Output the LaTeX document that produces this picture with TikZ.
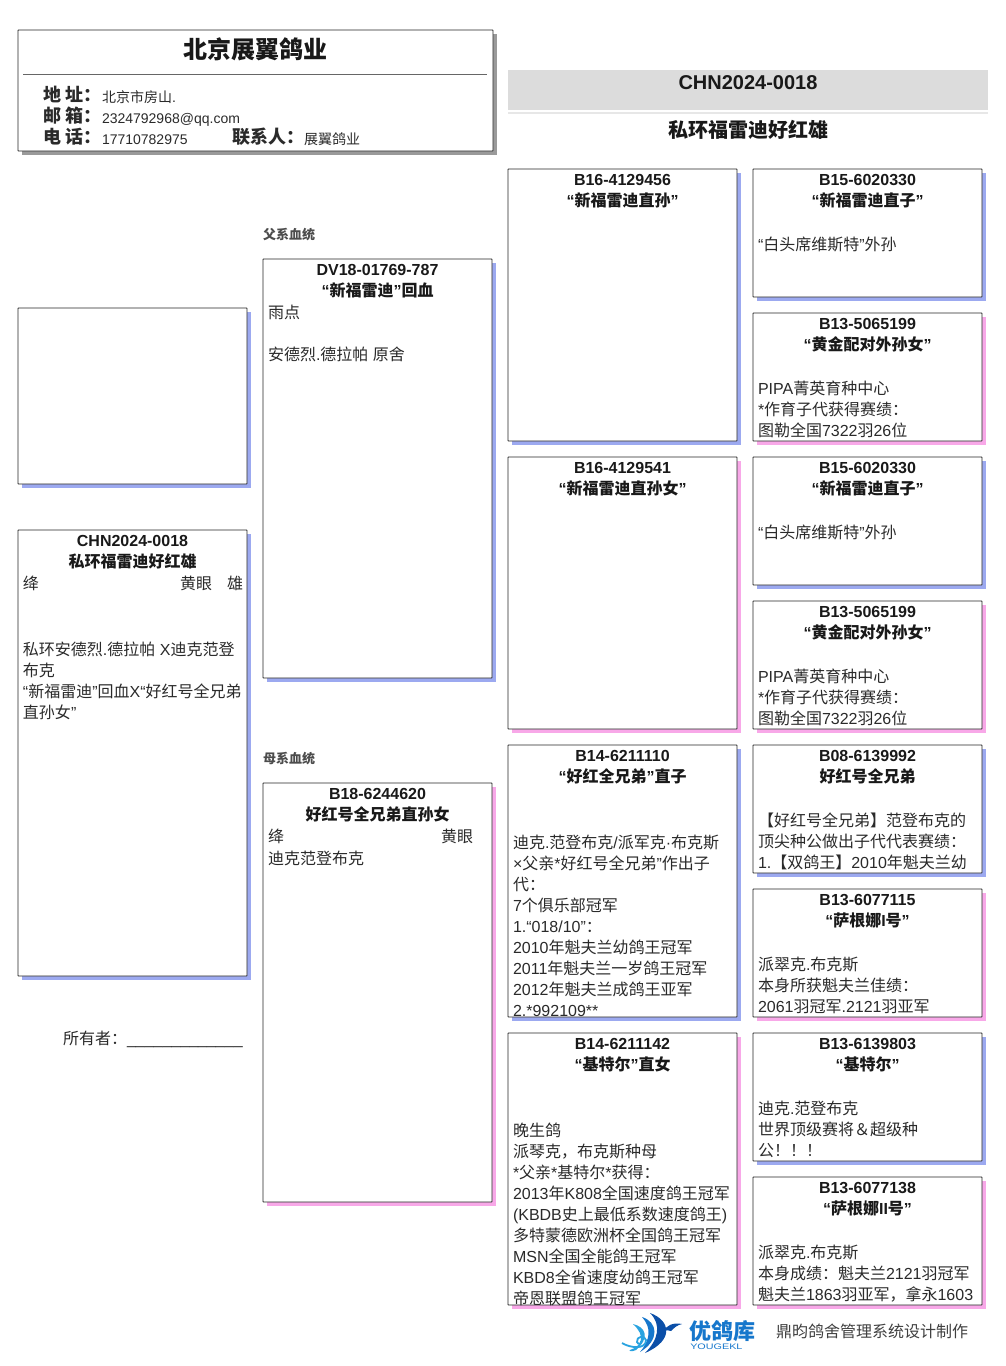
\documentclass[tikz,border=0pt]{standalone}
\usepackage{fontspec}
\usetikzlibrary{shadings}
\setmainfont{Liberation Sans}
\newfontfamily\cjkf{Noto Sans CJK SC}
% automatic switch to the CJK family
\newXeTeXintercharclass\cjclass
\newcount\cjc
\cjc="3000 \loop\ifnum\cjc<"A000 \XeTeXcharclass\cjc=\cjclass \advance\cjc by 1 \repeat
\cjc="FF00 \loop\ifnum\cjc<"FFF0 \XeTeXcharclass\cjc=\cjclass \advance\cjc by 1 \repeat
\XeTeXinterchartokenstate=1
\XeTeXinterchartoks 0 \cjclass={\begingroup\cjkf}
\XeTeXinterchartoks 4095 \cjclass={\begingroup\cjkf}
\XeTeXinterchartoks \cjclass 0={\endgroup}
\XeTeXinterchartoks \cjclass 4095={\endgroup}
\definecolor{shblue}{HTML}{9CA9F0}
\definecolor{shpink}{HTML}{F8A8E8}
\definecolor{shgray}{HTML}{9A9A9A}
\definecolor{txt}{HTML}{2A2A2A}
\definecolor{band}{HTML}{DCDCDC}
\definecolor{lgA}{HTML}{0B4FA8}
\definecolor{lgB}{HTML}{1677CC}
\definecolor{lgC}{HTML}{29A3E0}
\newcommand\sz[1]{\fontsize{#1}{21}\selectfont\lineskiplimit=-20pt\relax}
\tikzset{
  x=1pt,y=-1pt,
  pedbox/.style={draw=black!85,line width=0.9pt,fill=white,inner sep=0,outer sep=0,rounded corners=0.5pt},
  txtblock/.style={inner sep=0,outer sep=0,anchor=north west,align=left,text=txt,font=\sz{16}},
  titleblock/.style={inner sep=0,outer sep=0,anchor=north,align=center,text=black!90,font=\sz{16}\bfseries},
}
% name, x, y, w, h, shadow colour
\newcommand\ped[6]{%
  \fill[#6] (#2+4,#3+4) rectangle (#2+#4+4,#3+#5+4);
  \node[pedbox,anchor=north west,minimum width=#4,minimum height=#5] (#1) at (#2,#3) {};
}
% name, x centre, top y of box, text
\newcommand\ttl[4]{\node[titleblock] (#1) at (#2,#3+1.3) {\strut #4};}
% name, x, centre y of the first line, text
\newcommand\bdy[4]{\node[txtblock] (#1) at (#2,#3-8.7) {\strut #4};}
\begin{document}
\begin{tikzpicture}
\useasboundingbox (0,0) rectangle (1006,1366);
\fill[white] (0,0) rectangle (1006,1366);
% header card
\ped{hdr}{18}{30}{475}{121}{shgray}
\node[titleblock,font=\sz{24}\bfseries] (hdrt) at (255,38) {北京展翼鸽业};
\coordinate (hl) at (23,74.5); \coordinate (hr) at (487,74.5);
\draw[black!60,line width=0.8pt] (hl) -- (hr);
\bdy{la}{43}{95}{\sz{18}\bfseries 地 址：}
\bdy{lb}{43}{116}{\sz{18}\bfseries 邮 箱：}
\bdy{lc}{43}{137}{\sz{18}\bfseries 电 话：}
\bdy{ld}{232}{137}{\sz{18}\bfseries 联系人：}
\bdy{va}{102}{96.5}{\sz{14}北京市房山.}
\bdy{vb}{102}{117}{\sz{14}2324792968@qq.com}
\bdy{vc}{102}{138}{\sz{14}17710782975}
\bdy{vd}{304}{138.5}{\sz{14}展翼鸽业}
% ring number band
\fill[band] (508,70) rectangle (988,110);
\fill[band!70!white] (508,112) rectangle (988,114);
\node[titleblock,font=\sz{20}\bfseries] (rn) at (748,76) {CHN2024-0018};
\node[titleblock,font=\sz{20}\bfseries] (rt) at (748,120.5) {私环福雷迪好红雄};
% left column
\ped{photo}{18}{308}{229}{176}{shblue}
\ped{main}{18}{530}{229}{446}{shblue}
\ttl{maint}{132.5}{530}{CHN2024-0018\\私环福雷迪好红雄}
\bdy{mc}{23}{583}{绛}
\bdy{me}{180}{583}{黄眼}
\bdy{ms}{227}{583}{雄}
\bdy{mb}{23}{649}{私环安德烈.德拉帕 X迪克范登\\布克\\“新福雷迪”回血X“好红号全兄弟\\直孙女”}
\bdy{own}{63}{1038}{所有者：\_\_\_\_\_\_\_\_\_\_\_\_\_}
% second column
\bdy{fl}{263}{233}{\sz{13}\bfseries\color{black!70}父系血统}
\ped{dv}{263}{259}{229}{419}{shblue}
\ttl{dvt}{377.5}{259}{DV18-01769-787\\“新福雷迪”回血}
\bdy{dvb}{268}{312}{雨点\\\\安德烈.德拉帕 原舍}
\bdy{ml}{263}{757}{\sz{13}\bfseries\color{black!70}母系血统}
\ped{bm}{263}{783}{229}{419}{shpink}
\ttl{bmt}{377.5}{783}{B18-6244620\\好红号全兄弟直孙女}
\bdy{bmc}{268}{836}{绛}
\bdy{bme}{441}{836}{黄眼}
\bdy{bmb}{268}{858}{迪克范登布克}
% third column
\ped{ca}{508}{169}{229}{272}{shblue}
\ttl{cat}{622.5}{169}{B16-4129456\\“新福雷迪直孙”}
\ped{cb}{508}{457}{229}{272}{shpink}
\ttl{cbt}{622.5}{457}{B16-4129541\\“新福雷迪直孙女”}
\ped{cc}{508}{745}{229}{272}{shblue}
\ttl{cct}{622.5}{745}{B14-6211110\\“好红全兄弟”直子}
\bdy{ccb}{513}{842}{迪克.范登布克/派军克·布克斯\\×父亲*好红号全兄弟”作出子\\代：\\7个俱乐部冠军\\1.“018/10”：\\2010年魁夫兰幼鸽王冠军\\2011年魁夫兰一岁鸽王冠军\\2012年魁夫兰成鸽王亚军\\2.*992109**}
\ped{cd}{508}{1033}{229}{272}{shpink}
\ttl{cdt}{622.5}{1033}{B14-6211142\\“基特尔”直女}
\bdy{cdb}{513}{1130}{晚生鸽\\派琴克，布克斯种母\\*父亲*基特尔*获得：\\2013年K808全国速度鸽王冠军\\(KBDB史上最低系数速度鸽王)\\多特蒙德欧洲杯全国鸽王冠军\\MSN全国全能鸽王冠军\\KBD8全省速度幼鸽王冠军\\帝恩联盟鸽王冠军}
% fourth column
\ped{da}{753}{169}{229}{128}{shblue}
\ttl{dat}{867.5}{169}{B15-6020330\\“新福雷迪直子”}
\bdy{dab}{758}{244}{“白头席维斯特”外孙}
\ped{db}{753}{313}{229}{128}{shpink}
\ttl{dbt}{867.5}{313}{B13-5065199\\“黄金配对外孙女”}
\bdy{dbb}{758}{388}{PIPA菁英育种中心\\*作育子代获得赛绩：\\图勒全国7322羽26位}
\ped{dc}{753}{457}{229}{128}{shblue}
\ttl{dct}{867.5}{457}{B15-6020330\\“新福雷迪直子”}
\bdy{dcb}{758}{532}{“白头席维斯特”外孙}
\ped{dd}{753}{601}{229}{128}{shpink}
\ttl{ddt}{867.5}{601}{B13-5065199\\“黄金配对外孙女”}
\bdy{ddb}{758}{676}{PIPA菁英育种中心\\*作育子代获得赛绩：\\图勒全国7322羽26位}
\ped{de}{753}{745}{229}{128}{shblue}
\ttl{det}{867.5}{745}{B08-6139992\\好红号全兄弟}
\bdy{deb}{758}{820}{【好红号全兄弟】范登布克的\\顶尖种公做出子代代表赛绩：\\1.【双鸽王】2010年魁夫兰幼}
\ped{df}{753}{889}{229}{128}{shpink}
\ttl{dft}{867.5}{889}{B13-6077115\\“萨根娜I号”}
\bdy{dfb}{758}{964}{派翠克.布克斯\\本身所获魁夫兰佳绩：\\2061羽冠军.2121羽亚军}
\ped{dg}{753}{1033}{229}{128}{shblue}
\ttl{dgt}{867.5}{1033}{B13-6139803\\“基特尔”}
\bdy{dgb}{758}{1108}{迪克.范登布克\\世界顶级赛将＆超级种\\公！！！}
\ped{dh}{753}{1177}{229}{128}{shpink}
\ttl{dht}{867.5}{1177}{B13-6077138\\“萨根娜II号”}
\bdy{dhb}{758}{1252}{派翠克.布克斯\\本身成绩：魁夫兰2121羽冠军\\魁夫兰1863羽亚军，拿永1603}
% logo
\fill[lgA] (650,1313) .. controls (670,1320) and (675,1340) .. (645,1353) .. controls (658,1340) and (662,1325) .. (650,1313) -- cycle;
\fill[lgB] (642,1317) .. controls (658,1322) and (660,1340) .. (640,1352) .. controls (650,1340) and (652,1328) .. (642,1317) -- cycle;
\fill[lgC] (633,1324) .. controls (646,1327) and (650,1338) .. (636,1350) .. controls (632,1352) and (628,1351) .. (630,1350) .. controls (642,1346) and (646,1336) .. (633,1324) -- cycle;
\draw[lgC,line width=1.8pt] (622,1343) .. controls (630,1348) and (646,1350) .. (646,1340) .. controls (645,1335) and (636,1336) .. (637,1342) .. controls (638,1345) and (642,1344) .. (641,1341);
\fill[lgA] (663,1331) .. controls (667,1326) and (672,1322) .. (682,1324) .. controls (677,1325) and (674,1328) .. (671,1331) .. controls (669,1330) and (666,1330) .. (663,1331) -- cycle;
\node[inner sep=0,anchor=west,text=lgB,font=\sz{22}\bfseries] (lgt) at (689.5,1331) {优鸽库};
\node[inner sep=0,anchor=west,text=lgB,font=\sz{8},xscale=1.35] (lgs) at (690,1347) {YOUGEKL};
\bdy{cred}{776}{1331}{\color{black!75}鼎昀鸽舍管理系统设计制作}
\end{tikzpicture}
\end{document}
